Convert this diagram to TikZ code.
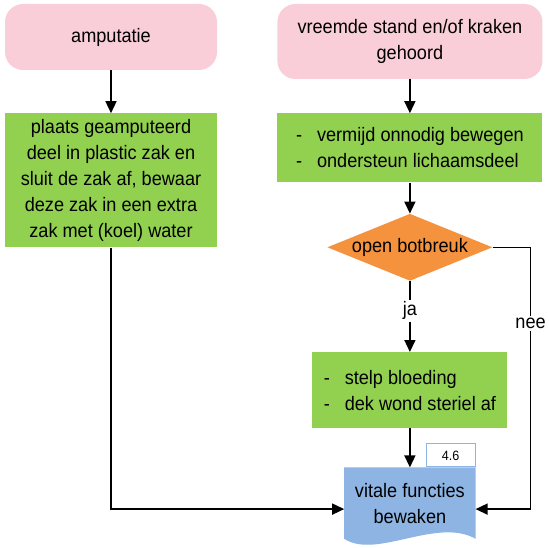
\documentclass[tikz,border=0pt]{standalone}
\usepackage{fontspec}
\setmainfont{Liberation Sans}[FakeStretch=0.93]
\usepackage{xcolor}
\usepackage{tikz}
\usetikzlibrary{shapes, arrows.meta, positioning, backgrounds}
\definecolor{terminalpink}{RGB}{249,206,216}
\definecolor{blockgreen}{RGB}{146,208,80}
\definecolor{decisionorange}{RGB}{245,146,62}
\definecolor{docblue}{RGB}{141,180,226}
\tikzstyle{terminal} = [rectangle, fill=terminalpink, rounded corners=18pt, align=center]
\tikzstyle{block} = [rectangle, fill=blockgreen, align=center]
\tikzstyle{listblock} = [rectangle, fill=blockgreen, align=left]
\tikzstyle{decision} = [diamond, fill=decisionorange, aspect=2.5, inner sep=0pt,
    minimum width=165pt, minimum height=67pt]
\tikzstyle{docshape} = [rectangle, align=center, minimum width=131pt, minimum height=71pt]
\tikzstyle{reftab} = [rectangle, draw=docblue, line width=1pt, fill=white,
    minimum width=49pt, minimum height=23pt, font=\fontsize{13.5}{15}\selectfont]
\tikzstyle{line} = [draw, line width=1.5pt, -{Triangle[length=12pt,width=11pt]}]
\tikzstyle{answer} = [fill=white, inner sep=2pt]
\newcommand{\dashitem}{\makebox[21pt][l]{-}}

\begin{document}
\begin{tikzpicture}[node distance = 40pt, font=\fontsize{19.5}{26}\selectfont]
      \useasboundingbox (0,0) rectangle (549pt,-548pt);
      % Left branch
      \node [terminal, minimum width=212pt, minimum height=66pt] (amputatie) at (111pt,-37pt) {amputatie};
      \node [block, below=43pt of amputatie, minimum width=212pt, minimum height=134pt] (bewaren)
        {plaats geamputeerd\\deel in plastic zak en\\sluit de zak af, bewaar\\deze zak in een extra\\zak met (koel) water};
      % Right branch
      \node [terminal, right=60pt of amputatie.north east, anchor=north west,
        minimum width=265pt, minimum height=75pt] (stand) {vreemde stand en/of kraken\\gehoord};
      \node [listblock, below=34pt of stand, minimum width=265pt, minimum height=69pt] (ondersteun)
        {\dashitem vermijd onnodig bewegen\\\dashitem ondersteun lichaamsdeel};
      \node [decision, below=31pt of ondersteun] (botbreuk) {open botbreuk};
      \node [listblock, below=71pt of botbreuk, minimum width=195pt, minimum height=76pt] (bloeding)
        {\dashitem stelp bloeding\\\dashitem dek wond steriel af};
      \node [docshape, below=39pt of bloeding] (vitale) {vitale functies\\bewaken};
      \node [reftab, anchor=south east] (ref) at (vitale.north east) {4.6};
      \begin{scope}[on background layer]
        \fill [docblue] (vitale.north west) -- (vitale.north east) -- (vitale.south east)
          .. controls +(-39pt,22pt) and +(32pt,-21pt) .. (vitale.south west) -- cycle;
      \end{scope}
      \coordinate [right=38pt of botbreuk.east] (nee-bend);
      % Draw edges
      \path [line] (amputatie) -- (bewaren);
      \path [line] (stand) -- (ondersteun);
      \path [line] (ondersteun) -- (botbreuk);
      \path [line] (botbreuk) -- node [answer, pos=0.42] {ja} (bloeding);
      \path [line] (bloeding) -- (vitale);
      \path [line] (bewaren) |- ([yshift=-6pt]vitale.west);
      \path [line] (botbreuk.east) -- (nee-bend) |- node [answer, pos=0.145] {nee} ([yshift=-6pt]vitale.east);
    \end{tikzpicture}
\end{document}
